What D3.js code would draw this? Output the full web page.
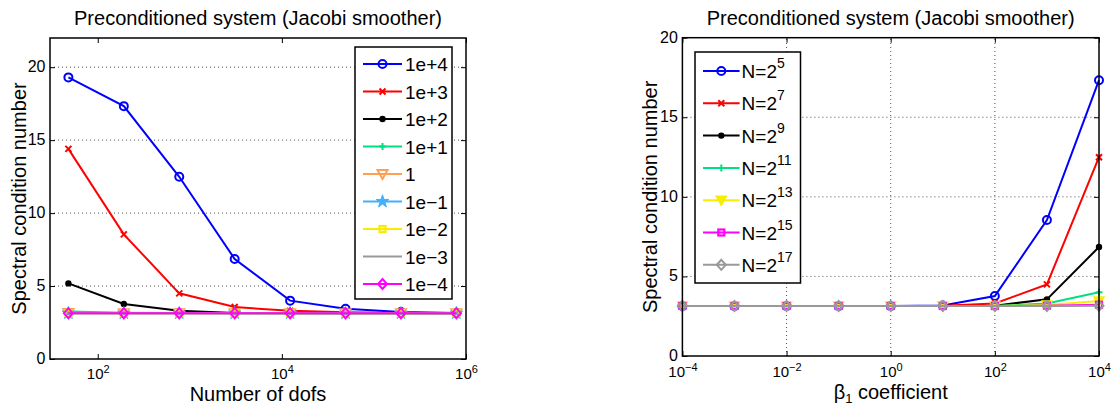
<!DOCTYPE html>
<html>
<head>
<meta charset="utf-8">
<script src="https://cdn.jsdelivr.net/npm/d3@7"></script>
<style>
  body { margin: 0; background: #fff; }
  svg { display: block; font-family: "Liberation Sans", Arial, sans-serif; }
</style>
</head>
<body>
<svg id="chart" width="1113" height="406"></svg>
<script>
// ---- data: left panel (condition number vs dofs, one series per beta1) ----
const dofs = [48, 192, 768, 3072, 12288, 49152, 196608, 786432];
const beta1e4 = [19.3, 17.33, 12.49, 6.85, 4.0, 3.45, 3.22, 3.16];
const beta1e3 = [14.4, 8.54, 4.5, 3.56, 3.3, 3.2, 3.16, 3.14];
const beta1e2 = [5.18, 3.77, 3.3, 3.16, 3.14, 3.14, 3.14, 3.14];
const beta1e1 = [3.26, 3.17, 3.15, 3.14, 3.14, 3.14, 3.14, 3.14];
const beta1e0 = [3.15, 3.14, 3.14, 3.14, 3.14, 3.14, 3.14, 3.14];
const beta1em1 = [3.14, 3.14, 3.14, 3.14, 3.14, 3.14, 3.14, 3.14];
const beta1em2 = [3.14, 3.14, 3.14, 3.14, 3.14, 3.14, 3.14, 3.14];
const beta1em3 = [3.14, 3.14, 3.14, 3.14, 3.14, 3.14, 3.14, 3.14];
const beta1em4 = [3.14, 3.14, 3.14, 3.14, 3.14, 3.14, 3.14, 3.14];
const leftLabels = ['1e+4', '1e+3', '1e+2', '1e+1', '1', '1e\u22121', '1e\u22122', '1e\u22123', '1e\u22124'];

// ---- data: right panel (condition number vs beta1, one series per N) ----
const betas = [1e-4, 1e-3, 1e-2, 1e-1, 1e0, 1e1, 1e2, 1e3, 1e4];
const n5 = [3.14, 3.14, 3.14, 3.14, 3.14, 3.17, 3.77, 8.54, 17.33];
const n7 = [3.14, 3.14, 3.14, 3.14, 3.14, 3.15, 3.3, 4.5, 12.49];
const n9 = [3.14, 3.14, 3.14, 3.14, 3.14, 3.14, 3.16, 3.56, 6.85];
const n11 = [3.14, 3.14, 3.14, 3.14, 3.14, 3.14, 3.14, 3.3, 4.0];
const n13 = [3.14, 3.14, 3.14, 3.14, 3.14, 3.14, 3.14, 3.2, 3.45];
const n15 = [3.14, 3.14, 3.14, 3.14, 3.14, 3.14, 3.14, 3.16, 3.22];
const n17 = [3.14, 3.14, 3.14, 3.14, 3.14, 3.14, 3.14, 3.14, 3.16];
const rightExps = ['5', '7', '9', '11', '13', '15', '17'];

const leftTicksX = [1e2, 1e4, 1e6];
const rightTicksX = [1e-4, 1e-2, 1e0, 1e2, 1e4];
const ticksY = [0, 5, 10, 15, 20];

const svg = d3.select('#chart');

// marker drawing
function marker(g, type, color, x, y) {
  const s = g.append('g').attr('transform', `translate(${x},${y})`);
  if (type === 'circle') {
    s.append('circle').attr('r', 4).attr('fill', 'none').attr('stroke', color).attr('stroke-width', 2);
  } else if (type === 'x') {
    s.append('path').attr('d', 'M-3,-3L3,3M-3,3L3,-3').attr('stroke', color).attr('stroke-width', 2);
  } else if (type === 'dot') {
    s.append('circle').attr('r', 3.2).attr('fill', color);
  } else if (type === 'plus') {
    s.append('path').attr('d', 'M-3.5,0L3.5,0M0,-3.5L0,3.5').attr('stroke', color).attr('stroke-width', 2);
  } else if (type === 'tri') {
    s.append('path').attr('d', 'M-5,-4L5,-4L0,5Z').attr('fill', 'none').attr('stroke', color).attr('stroke-width', 2);
  } else if (type === 'trifill') {
    s.append('path').attr('d', 'M-5,-4L5,-4L0,5Z').attr('fill', color).attr('stroke', color).attr('stroke-width', 1.5);
  } else if (type === 'star') {
    s.append('path').attr('d', d3.symbol().type(d3.symbolStar).size(50)()).attr('fill', color).attr('stroke', color).attr('stroke-width', 1);
  } else if (type === 'square') {
    s.append('rect').attr('x', -3).attr('y', -3).attr('width', 6).attr('height', 6).attr('fill', 'none').attr('stroke', color).attr('stroke-width', 2.2);
  } else if (type === 'diamond') {
    s.append('path').attr('d', 'M0,-5L4.5,0L0,5L-4.5,0Z').attr('fill', 'none').attr('stroke', color).attr('stroke-width', 2);
  }
}

// write "10^e" into an axis tick label
function powerLabel(text, d) {
  const e = Math.round(Math.log10(d));
  text.text(null);
  text.append('tspan').text('10');
  text.append('tspan').attr('dy', -6).attr('font-size', 11).text(e < 0 ? '\u2212' + (-e) : e);
}

function drawPanel(cfg) {
  const x = d3.scaleLog().domain(cfg.xDomain).range(cfg.xRange);
  const y = d3.scaleLinear().domain(cfg.yDomain).range(cfg.yRange);
  const [x0, x1] = cfg.xRange;
  const [y0, y1] = cfg.yRange;
  const g = svg.append('g');

  // dotted grid
  g.append('g').selectAll('line').data(cfg.gridY).join('line')
    .attr('x1', x0).attr('x2', x1).attr('y1', d => y(d)).attr('y2', d => y(d))
    .attr('stroke', '#555').attr('stroke-width', 1).attr('stroke-dasharray', '1,3');
  g.append('g').selectAll('line').data(cfg.gridX).join('line')
    .attr('x1', d => x(d)).attr('x2', d => x(d)).attr('y1', y0).attr('y2', y1)
    .attr('stroke', '#555').attr('stroke-width', 1).attr('stroke-dasharray', '1,3');

  // axes with inward ticks
  const bottom = g.append('g').attr('transform', `translate(0,${y0})`)
    .call(d3.axisBottom(x).tickValues(cfg.ticksX).tickSizeInner(-5).tickSizeOuter(0).tickPadding(cfg.xPad));
  g.append('g').attr('transform', `translate(0,${y1})`)
    .call(d3.axisTop(x).tickValues(cfg.ticksX).tickSizeInner(-5).tickSizeOuter(0).tickFormat(''));
  const left = g.append('g').attr('transform', `translate(${x0},0)`)
    .call(d3.axisLeft(y).tickValues(ticksY).tickSizeInner(-5).tickSizeOuter(0).tickPadding(4.5));
  g.append('g').attr('transform', `translate(${x1},0)`)
    .call(d3.axisRight(y).tickValues(ticksY).tickSizeInner(-5).tickSizeOuter(0).tickFormat(''));
  g.selectAll('.domain').remove();
  g.selectAll('.tick line').attr('stroke', '#000').attr('stroke-width', 1);
  g.selectAll('.tick text').attr('fill', '#000').attr('font-family', '"Liberation Sans", Arial, sans-serif');
  left.selectAll('.tick text').attr('font-size', 16).attr('dy', '0.28em');
  bottom.selectAll('.tick text').attr('font-size', 15)
    .each(function(d) { powerLabel(d3.select(this), d); });

  // series
  const line = d3.line().x(d => x(d[0])).y(d => y(d[1]));
  cfg.series.forEach(s => {
    const pts = cfg.xs.map((v, i) => [v, s.values[i]]);
    g.append('path').datum(pts).attr('d', line)
      .attr('fill', 'none').attr('stroke', s.color).attr('stroke-width', 2);
    pts.forEach(p => marker(g, s.marker, s.color, x(p[0]), y(p[1])));
  });

  // frame
  g.append('rect').attr('x', x0).attr('y', y1).attr('width', x1 - x0).attr('height', y0 - y1)
    .attr('fill', 'none').attr('stroke', '#000').attr('stroke-width', 1.5);

  // title and axis labels
  svg.append('text').attr('x', (x0 + x1) / 2).attr('y', 24.5).attr('text-anchor', 'middle')
    .attr('font-size', 20).text('Preconditioned system (Jacobi smoother)');
  svg.append('text').attr('transform', `translate(${cfg.yLabelX},${(y0 + y1) / 2}) rotate(-90)`)
    .attr('text-anchor', 'middle').attr('font-size', 20).text('Spectral condition number');
  const xl = svg.append('text').attr('x', (x0 + x1) / 2).attr('y', cfg.xLabelY)
    .attr('text-anchor', 'middle').attr('font-size', 20);
  cfg.xLabel(xl);

  // legend
  const L = cfg.legend;
  const lg = svg.append('g');
  lg.append('rect').attr('x', L.x).attr('y', L.y).attr('width', L.w).attr('height', L.h)
    .attr('fill', '#fff').attr('stroke', '#000').attr('stroke-width', 1.5);
  cfg.series.forEach((s, i) => {
    const ly = L.firstY + i * L.step;
    lg.append('line').attr('x1', L.x + 8).attr('x2', L.x + 8 + L.lineLen).attr('y1', ly).attr('y2', ly)
      .attr('stroke', s.color).attr('stroke-width', 2);
    marker(lg, s.marker, s.color, L.x + 8 + L.lineLen / 2, ly);
    const t = lg.append('text').attr('x', L.x + 8 + L.lineLen + L.gap).attr('y', ly + 7)
      .attr('font-size', L.fontSize);
    L.label(t, i);
  });
}

const leftValues = [beta1e4, beta1e3, beta1e2, beta1e1, beta1e0, beta1em1, beta1em2, beta1em3, beta1em4];
const leftStyle = [
  ['#0000ff', 'circle'], ['#ff0000', 'x'], ['#000000', 'dot'], ['#00e080', 'plus'],
  ['#ffa050', 'tri'], ['#40b0ff', 'star'], ['#f8ec00', 'square'], ['#999999', 'none'], ['#ff00ff', 'diamond']
];
drawPanel({
  xDomain: [30.3, 1e6], xRange: [50, 466],
  yDomain: [0, 22], yRange: [359, 38],
  ticksX: leftTicksX, gridX: [], gridY: [5, 10, 15, 20], xPad: 9.5,
  xs: dofs,
  series: leftValues.map((v, i) => ({ values: v, color: leftStyle[i][0], marker: leftStyle[i][1] })),
  yLabelX: 26, xLabelY: 401,
  xLabel: t => t.text('Number of dofs'),
  legend: {
    x: 355, y: 47, w: 97, h: 252, firstY: 64, step: 27.5, lineLen: 39, gap: 3, fontSize: 19,
    label: (t, i) => t.text(leftLabels[i])
  }
});

const rightValues = [n5, n7, n9, n11, n13, n15, n17];
const rightStyle = [
  ['#0000ff', 'circle'], ['#ff0000', 'x'], ['#000000', 'dot'], ['#00e080', 'plus'],
  ['#f8ec00', 'trifill'], ['#ff00ff', 'square'], ['#999999', 'diamond']
];
drawPanel({
  xDomain: [1e-4, 1e4], xRange: [682.4, 1099],
  yDomain: [0, 20], yRange: [356, 37.7],
  ticksX: rightTicksX, gridX: [1e-2, 1e0, 1e2], gridY: [5, 10, 15], xPad: 10.5,
  xs: betas,
  series: rightValues.map((v, i) => ({ values: v, color: rightStyle[i][0], marker: rightStyle[i][1] })),
  yLabelX: 657, xLabelY: 398.5,
  xLabel: t => {
    t.append('tspan').text('\u03b2');
    t.append('tspan').attr('dy', 4).attr('font-size', 13).text('1');
    t.append('tspan').attr('dy', -4).text(' coefficient');
  },
  legend: {
    x: 695, y: 52, w: 105.5, h: 231, firstY: 71, step: 32.3, lineLen: 36.6, gap: 2, fontSize: 19,
    label: (t, i) => {
      t.append('tspan').text('N=2');
      t.append('tspan').attr('dy', -10).attr('font-size', 14).text(rightExps[i]);
    }
  }
});
</script>
</body>
</html>
